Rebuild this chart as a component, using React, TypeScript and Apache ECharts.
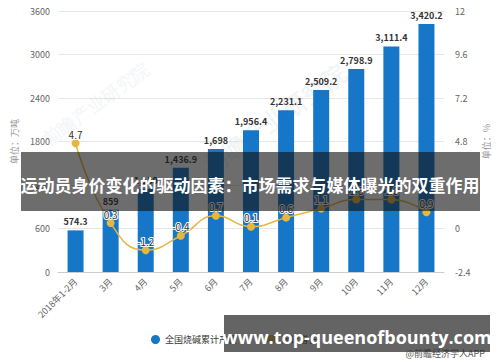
import React, { useEffect, useRef } from "react";
import * as echarts from "echarts";

const categories = ["2018年1-2月", "3月", "4月", "5月", "6月", "7月", "8月", "9月", "10月", "11月", "12月"];
const production = [574.3, 859, 1150, 1436.9, 1698, 1956.4, 2231.1, 2509.2, 2798.9, 3111.4, 3420.2];
const growth = [4.7, 0.3, -1.2, -0.4, 0.7, 0.1, 0.6, 1.1, 1.6, 1.6, 0.9];
const leftTicks = { min: 0, max: 3600, interval: 600 };
const rightTicks = { min: -2.4, max: 12, interval: 2.4 };
const titleText = "运动员身价变化的驱动因素：市场需求与媒体曝光的双重作用";
const siteText = "www.top-queenofbounty.com";

export default function App() {
  const ref = useRef<HTMLDivElement>(null);
  useEffect(() => {
    if (!ref.current) return;
    const chart = echarts.init(ref.current, null, { renderer: "svg" });
    const font = "'Noto Sans CJK SC', 'Noto Sans', sans-serif";
    chart.setOption({
      animation: false,
      textStyle: { fontFamily: font },
      grid: { left: 58, right: 56, top: 11, bottom: 90 },
      legend: {
        data: [
          { name: "全国烧碱累计产量", icon: "circle" },
          { name: "累计增长", icon: "circle" },
        ],
        left: 146,
        top: 330,
        itemWidth: 9,
        itemHeight: 9,
        itemGap: 30,
        textStyle: { fontSize: 9, color: "#333", fontFamily: font },
      },
      xAxis: {
        type: "category",
        data: categories,
        axisLine: { lineStyle: { color: "#cccccc" } },
        axisTick: { alignWithLabel: true, length: 4, lineStyle: { color: "#cccccc" } },
        axisLabel: { rotate: 45, fontSize: 9, color: "#666", margin: 8, fontFamily: font },
      },
      yAxis: [
        {
          type: "value",
          min: leftTicks.min,
          max: leftTicks.max,
          interval: leftTicks.interval,
          name: "单位：万吨",
          nameLocation: "middle",
          nameGap: 38,
          nameTextStyle: { fontSize: 9, color: "#999", fontFamily: font },
          axisLine: { show: false },
          axisTick: { show: false },
          axisLabel: { fontSize: 9, color: "#666", margin: 8, formatter: (v: number) => String(v) },
          splitLine: { lineStyle: { color: "#e6e6e6" } },
        },
        {
          type: "value",
          min: rightTicks.min,
          max: rightTicks.max,
          interval: rightTicks.interval,
          name: "单位：%",
          nameLocation: "middle",
          nameGap: 36,
          nameTextStyle: { fontSize: 9, color: "#999", fontFamily: font },
          axisLine: { show: false },
          axisTick: { show: false },
          axisLabel: {
            fontSize: 9,
            color: "#666",
            margin: 11,
            formatter: (v: number) => (Math.abs(v - 2.4) < 1e-6 ? "" : String(Math.round(v * 10) / 10)),
          },
          splitLine: { show: false },
        },
      ],
      series: [
        {
          name: "全国烧碱累计产量",
          type: "bar",
          data: production,
          barWidth: 16,
          itemStyle: { color: "#1677c8" },
          label: {
            show: true,
            position: "top",
            distance: 4,
            fontSize: 9,
            fontWeight: "bold",
            color: "#333",
            formatter: (p: any) =>
              p.value.toLocaleString("en-US", { maximumFractionDigits: 1 }),
          },
          z: 2,
        },
        {
          name: "累计增长",
          type: "line",
          yAxisIndex: 1,
          data: growth,
          smooth: true,
          symbol: "circle",
          symbolSize: 8,
          lineStyle: { color: "#e8b63c", width: 1.5 },
          itemStyle: { color: "#e8b63c" },
          label: {
            show: true,
            position: "top",
            distance: 0,
            fontSize: 10,
            color: "#333",
            textBorderColor: "#ffffff",
            textBorderWidth: 2,
            formatter: (p: any) => p.value.toFixed(1),
          },
          z: 3,
        },
      ],
      graphic: [
        {
          type: "text",
          left: 40,
          top: 60,
          rotation: Math.PI / 5,
          style: { text: "前瞻产业研究院", fontSize: 18, fill: "rgba(150,170,190,0.1)", fontWeight: "bold" },
          z: 1,
        },
        {
          type: "text",
          left: 200,
          top: 60,
          rotation: Math.PI / 5,
          style: { text: "前瞻产业研究院", fontSize: 24, fill: "rgba(150,170,190,0.12)", fontWeight: "bold" },
          z: 1,
        },
        {
          type: "rect",
          shape: { x: 21, y: 152, width: 459, height: 59 },
          style: { fill: "rgba(20,20,20,0.62)" },
          z: 100,
        },
        {
          type: "text",
          x: 250,
          y: 184,
          style: {
            text: titleText,
            fontSize: 17,
            fontWeight: "bold",
            fill: "#ffffff",
            align: "center",
            verticalAlign: "middle",
            fontFamily: font,
          },
          z: 101,
        },
        {
          type: "text",
          x: 485,
          y: 353,
          style: {
            text: "@前瞻经济学人APP",
            fontSize: 9,
            fill: "#555",
            align: "right",
            verticalAlign: "middle",
            fontFamily: font,
          },
          z: 50,
        },
        {
          type: "rect",
          shape: { x: 224, y: 315, width: 266, height: 37 },
          style: { fill: "rgba(40,40,40,0.72)" },
          z: 100,
        },
        {
          type: "text",
          x: 357,
          y: 337,
          style: {
            text: siteText,
            fontSize: 18,
            fontWeight: "bold",
            fill: "#ffffff",
            align: "center",
            verticalAlign: "middle",
            fontFamily: "'Open Sans', 'DejaVu Sans', sans-serif",
          },
          z: 101,
        },
      ],
    });
    return () => chart.dispose();
  }, []);
  return <div ref={ref} style={{ width: 500, height: 362, position: "absolute", left: 0, top: 0 }} />;
}
